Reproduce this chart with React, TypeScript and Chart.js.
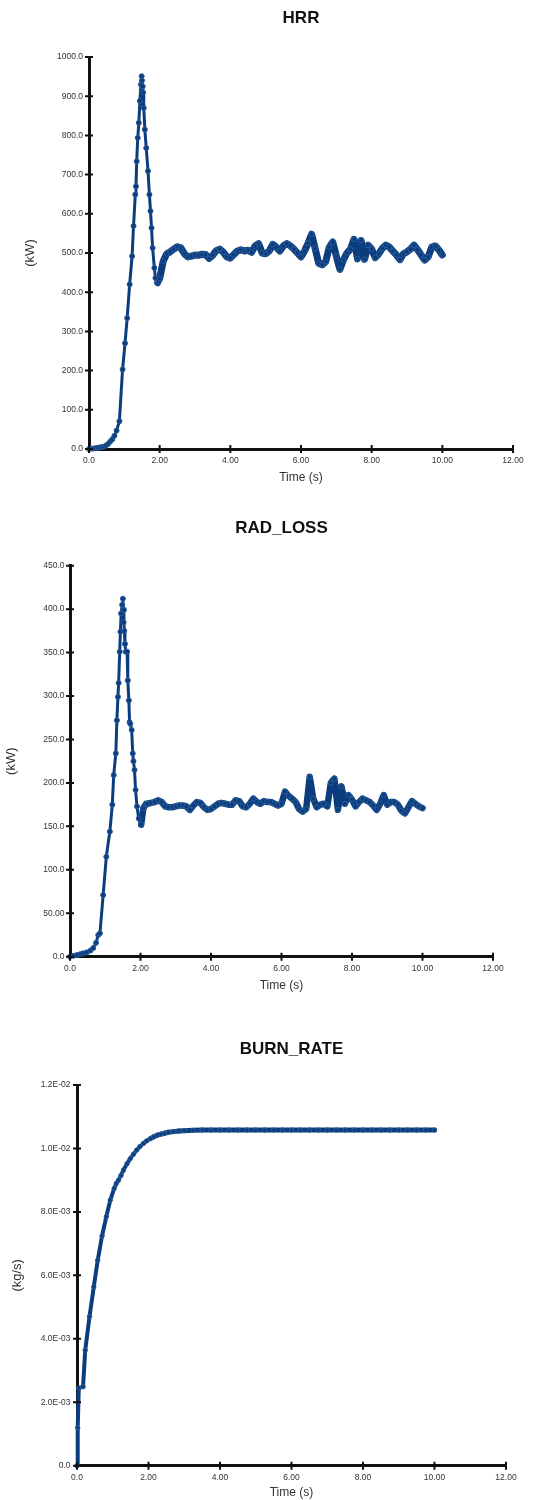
import React, { useEffect, useRef } from "react";
import { Chart, registerables } from "chart.js";

Chart.register(...registerables);

// ---------- tick labels ----------
const xTickLabels = ["0.0", "2.00", "4.00", "6.00", "8.00", "10.00", "12.00"];
const hrrTickLabels = ["0.0", "100.0", "200.0", "300.0", "400.0", "500.0", "600.0", "700.0", "800.0", "900.0", "1000.0"];
const radTickLabels = ["0.0", "50.00", "100.0", "150.0", "200.0", "250.0", "300.0", "350.0", "400.0", "450.0"];
const burnTickLabels = ["0.0", "2.0E-03", "4.0E-03", "6.0E-03", "8.0E-03", "1.0E-02", "1.2E-02"];

// ---------- HRR ----------
const hrrTime = [
  0.0, 0.06, 0.12, 0.18, 0.24, 0.3, 0.36, 0.42, 0.48, 0.54, 0.6, 0.66, 0.72, 0.78, 0.86, 0.95,
  1.02, 1.08, 1.15, 1.22, 1.26, 1.31, 1.33, 1.35, 1.38, 1.41, 1.44, 1.47, 1.49, 1.5, 1.51, 1.52,
  1.53, 1.55, 1.58, 1.62, 1.67, 1.71, 1.74, 1.77, 1.8, 1.85, 1.88, 1.92, 1.95, 1.98,
  2.0, 2.1, 2.2, 2.3, 2.4, 2.5, 2.6, 2.7, 2.8, 2.9, 3.0, 3.1, 3.2, 3.3, 3.4, 3.5, 3.6, 3.7, 3.8, 3.9,
  4.0, 4.1, 4.2, 4.3, 4.4, 4.5, 4.6, 4.7, 4.8, 4.9, 5.0, 5.1, 5.2, 5.3, 5.4, 5.5, 5.6, 5.7, 5.8, 5.9,
  6.0, 6.1, 6.2, 6.3, 6.4, 6.5, 6.6, 6.7, 6.8, 6.9, 7.0, 7.1, 7.2, 7.3, 7.4, 7.5, 7.6, 7.7, 7.8, 7.9,
  8.0, 8.1, 8.2, 8.3, 8.4, 8.5, 8.6, 8.7, 8.8, 8.9, 9.0, 9.1, 9.2, 9.3, 9.4, 9.5, 9.6, 9.7, 9.8, 9.9, 10.0,
];
const hrrValue = [
  0, 1, 1, 2, 3, 4, 5, 6, 9, 13, 19, 25, 34, 47, 71, 203,
  270, 334, 420, 492, 569, 649, 670, 734, 794, 832, 888, 930, 951, 940, 879, 925,
  910, 870, 815, 768, 709, 649, 607, 564, 513, 462, 436, 424, 422, 428,
  435, 479, 498, 503, 510, 516, 513, 498, 490, 492, 495, 494, 497, 496, 486, 494, 506, 510, 502, 490,
  487, 496, 505, 508, 505, 507, 502, 518, 524, 500, 498, 505, 522, 515, 505, 518, 524, 518, 510, 500,
  490, 505, 525, 548, 512, 474, 470, 478, 515, 528, 492, 458, 482, 500, 510, 535, 485, 532, 484, 520,
  510, 488, 498, 512, 520, 515, 505, 495, 483, 498, 503, 510, 520, 508, 495, 482, 490, 515, 518, 508, 495,
];

// ---------- RAD_LOSS ----------
const radTime = [
  0.0, 0.1, 0.2, 0.3, 0.38, 0.48, 0.58, 0.66, 0.74, 0.8, 0.85, 0.94, 1.03, 1.13, 1.2, 1.24, 1.3,
  1.33, 1.36, 1.38, 1.41, 1.43, 1.45, 1.48, 1.5, 1.51, 1.52, 1.53, 1.54, 1.56, 1.58, 1.62, 1.64,
  1.67, 1.69, 1.71, 1.75, 1.78, 1.8, 1.83, 1.86, 1.9, 1.95, 2.02, 2.08, 2.16,
  2.2, 2.3, 2.4, 2.5, 2.6, 2.7, 2.8, 2.9, 3.0, 3.1, 3.2, 3.3, 3.4, 3.5, 3.6, 3.7, 3.8, 3.9,
  4.0, 4.1, 4.2, 4.3, 4.4, 4.5, 4.6, 4.7, 4.8, 4.9, 5.0, 5.1, 5.2, 5.3, 5.4, 5.5, 5.6, 5.7, 5.8, 5.9,
  6.0, 6.1, 6.2, 6.3, 6.4, 6.5, 6.6, 6.7, 6.8, 6.9, 7.0, 7.1, 7.2, 7.3, 7.4, 7.5, 7.6, 7.7, 7.8, 7.9,
  8.0, 8.1, 8.2, 8.3, 8.4, 8.5, 8.6, 8.7, 8.8, 8.9, 9.0, 9.1, 9.2, 9.3, 9.4, 9.5, 9.6, 9.7, 9.8, 9.9, 10.0,
];
const radValue = [
  0, 1, 2, 3, 4, 5, 7, 10, 16, 25, 27, 71, 115, 144, 175, 209, 234,
  272, 299, 315, 351, 374, 395, 405, 412, 400, 385, 399, 375, 360, 351, 351, 318,
  295, 270, 268, 261, 234, 225, 215, 192, 173, 159, 152, 171, 176,
  176, 177, 178, 180, 178, 173, 172, 172, 173, 174, 174, 173, 169, 174, 178, 177, 172, 169,
  170, 173, 176, 177, 176, 175, 175, 180, 179, 173, 172, 176, 182, 178, 176, 179, 178, 178, 176, 174,
  176, 190, 185, 182, 178, 170, 167, 170, 207, 182, 172, 175, 176, 173, 200, 205, 169, 196, 176, 186,
  181, 173, 178, 182, 180, 178, 174, 169, 176, 186, 175, 178, 178, 175, 168, 165, 172, 179, 176, 173, 171,
];

// ---------- BURN_RATE ----------
const burnTime = [
  0.0, 0.02, 0.05, 0.17, 0.23, 0.35, 0.47, 0.58, 0.7, 0.82, 0.93, 1.04, 1.1, 1.16, 1.23, 1.3, 1.4,
  1.49, 1.58, 1.67, 1.76, 1.86, 1.95, 2.05, 2.15, 2.25, 2.35, 2.45, 2.55, 2.7, 2.85, 3.0, 3.25,
  3.5, 3.75, 4.0, 4.25, 4.5, 4.75, 5.0, 5.25, 5.5, 5.75, 6.0, 6.25, 6.5, 6.75, 7.0, 7.25, 7.5,
  7.75, 8.0, 8.25, 8.5, 8.75, 9.0, 9.25, 9.5, 9.75, 10.0,
];
const burnValue = [
  0, 0.0012, 0.00245, 0.00249, 0.00364, 0.0047, 0.00564, 0.00648, 0.00724, 0.00785, 0.00837,
  0.00874, 0.0089, 0.009, 0.00915, 0.00932, 0.00952, 0.00968, 0.00982, 0.00995, 0.01006, 0.01016,
  0.01024, 0.01031, 0.01037, 0.01042, 0.01045, 0.01048, 0.01051, 0.01053, 0.01055, 0.01056, 0.01057,
  0.01058, 0.01058, 0.01058, 0.01058, 0.01058, 0.01058, 0.01058, 0.01058, 0.01058, 0.01058, 0.01058,
  0.01058, 0.01058, 0.01058, 0.01058, 0.01058, 0.01058, 0.01058, 0.01058, 0.01058, 0.01058, 0.01058,
  0.01058, 0.01058, 0.01058, 0.01058, 0.01058,
];

const FONT = "'Liberation Sans', Arial, Helvetica, sans-serif";
const LINE_COLOR = "#0b3d7e";

const crossTicks = {
  id: "crossTicks",
  afterDraw(chart: any) {
    const { ctx, chartArea } = chart;
    const xs = chart.scales.x;
    const ys = chart.scales.y;
    ctx.save();
    ctx.strokeStyle = "#111";
    ctx.lineWidth = 2;
    ctx.beginPath();
    xs.ticks.forEach((t: any) => {
      const px = xs.getPixelForValue(t.value);
      ctx.moveTo(px, chartArea.bottom - 4);
      ctx.lineTo(px, chartArea.bottom + 4);
    });
    ys.ticks.forEach((t: any) => {
      const py = ys.getPixelForValue(t.value);
      ctx.moveTo(chartArea.left - 4, py);
      ctx.lineTo(chartArea.left + 4, py);
    });
    ctx.stroke();
    ctx.restore();
  },
};

type Spec = {
  title: string;
  yTitle: string;
  time: number[];
  value: number[];
  yMax: number;
  yStep: number;
  yLabels: string[];
  pad: { top: number; left: number; right: number; bottom: number };
  titlePad: { top: number; bottom: number };
  yWidth: number;
  xHeight: number;
  yTickPad: number;
  pointRadius: number;
  lineWidth: number;
  bandWidth: number;
};

function makeConfig(s: Spec): any {
  return {
    type: "line",
    data: {
      datasets: [
        {
          data: s.time.map((t, i) => ({ x: t, y: s.value[i] })),
          borderColor: LINE_COLOR,
          backgroundColor: LINE_COLOR,
          borderWidth: s.lineWidth,
          borderJoinStyle: "round",
          borderCapStyle: "round",
          segment: {
            borderWidth: (c: any) => (c.p0.parsed.x >= 2 ? s.bandWidth : s.lineWidth),
          },
          pointRadius: s.pointRadius,
          pointBorderWidth: 1,
          pointBorderColor: "#2a5a98",
          pointBackgroundColor: LINE_COLOR,
          tension: 0,
          clip: 8,
        },
      ],
    },
    options: {
      responsive: false,
      animation: false,
      devicePixelRatio: 1,
      layout: { padding: s.pad },
      plugins: {
        legend: { display: false },
        tooltip: { enabled: false },
        title: {
          display: true,
          text: s.title,
          fullSize: false,
          color: "#111",
          font: { family: FONT, size: 17, weight: "bold" },
          padding: s.titlePad,
        },
      },
      scales: {
        x: {
          type: "linear",
          min: 0,
          max: 12,
          afterFit: (sc: any) => {
            sc.height = s.xHeight;
          },
          ticks: {
            stepSize: 2,
            autoSkip: false,
            maxRotation: 0,
            padding: 6.5,
            color: "#333",
            font: { family: FONT, size: 8.5 },
            callback: (v: number) => xTickLabels[Math.round(v / 2)],
          },
          grid: { display: false, drawTicks: false, tickLength: 0 },
          border: { display: true, color: "#111", width: 3 },
          title: {
            display: true,
            text: "Time (s)",
            color: "#333",
            padding: 0,
            font: { family: FONT, size: 12 },
          },
        },
        y: {
          type: "linear",
          min: 0,
          max: s.yMax,
          afterFit: (sc: any) => {
            sc.width = s.yWidth;
          },
          ticks: {
            stepSize: s.yStep,
            autoSkip: false,
            padding: s.yTickPad,
            color: "#333",
            font: { family: FONT, size: 8.5 },
            callback: (v: number) => s.yLabels[Math.round(v / s.yStep)],
          },
          grid: { display: false, drawTicks: false, tickLength: 0 },
          border: { display: true, color: "#111", width: 3 },
          title: {
            display: true,
            text: s.yTitle,
            color: "#333",
            padding: 0,
            font: { family: FONT, size: 13 },
          },
        },
      },
    },
    plugins: [crossTicks],
  };
}

const specs: Spec[] = [
  {
    title: "HRR",
    yTitle: "(kW)",
    time: hrrTime,
    value: hrrValue,
    yMax: 1000,
    yStep: 100,
    yLabels: hrrTickLabels,
    pad: { top: 0, left: 22.2, right: 20, bottom: 15.5 },
    titlePad: { top: 8.6, bottom: 28 },
    yWidth: 66.8,
    xHeight: 35.5,
    yTickPad: 6,
    pointRadius: 2.5,
    lineWidth: 3,
    bandWidth: 7,
  },
  {
    title: "RAD_LOSS",
    yTitle: "(kW)",
    time: radTime,
    value: radValue,
    yMax: 450,
    yStep: 50,
    yLabels: radTickLabels,
    pad: { top: 0, left: 3.9, right: 40, bottom: 6.8 },
    titlePad: { top: 18.1, bottom: 27.2 },
    yWidth: 66.1,
    xHeight: 36.5,
    yTickPad: 5.5,
    pointRadius: 2.5,
    lineWidth: 3,
    bandWidth: 6.5,
  },
  {
    title: "BURN_RATE",
    yTitle: "(kg/s)",
    time: burnTime,
    value: burnValue,
    yMax: 0.012,
    yStep: 0.002,
    yLabels: burnTickLabels,
    pad: { top: 0, left: 9.5, right: 27, bottom: 0 },
    titlePad: { top: 39.5, bottom: 25.1 },
    yWidth: 67.5,
    xHeight: 34.3,
    yTickPad: 6.5,
    pointRadius: 2.2,
    lineWidth: 4,
    bandWidth: 5,
  },
];

function ChartPanel({ spec, top }: { spec: Spec; top: number }) {
  const ref = useRef<HTMLCanvasElement | null>(null);
  useEffect(() => {
    if (!ref.current) return;
    const chart = new Chart(ref.current, makeConfig(spec));
    return () => chart.destroy();
  }, [spec]);
  return (
    <div style={{ position: "absolute", left: 0, top, width: 533, height: 500 }}>
      <canvas ref={ref} width={533} height={500} style={{ width: 533, height: 500, display: "block" }} />
    </div>
  );
}

export default function App() {
  return (
    <div style={{ position: "absolute", left: 0, top: 0, width: 533, height: 1500, background: "#fff" }}>
      {specs.map((s, i) => (
        <ChartPanel key={s.title} spec={s} top={i * 500} />
      ))}
    </div>
  );
}
